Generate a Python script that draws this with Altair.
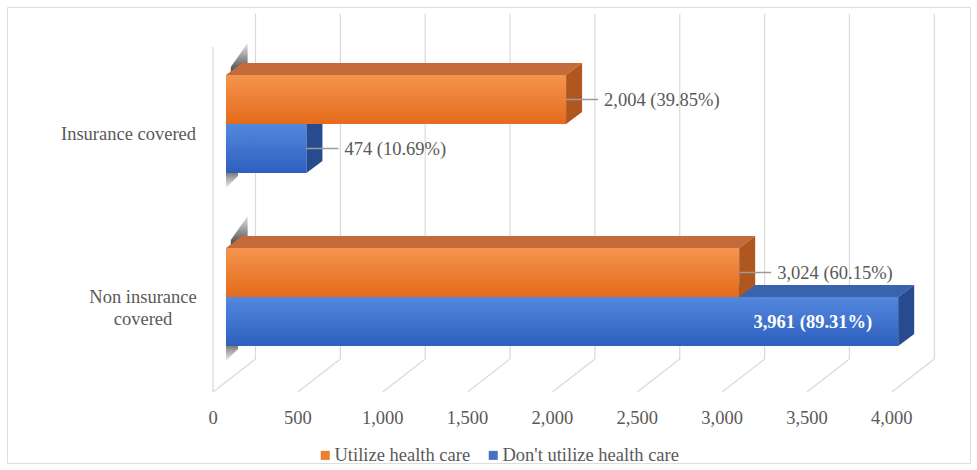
import altair as alt
import pandas as pd

# ---------------- data ----------------
categories = ["Insurance covered", "Non insurance covered"]
category_lines = ["Insurance covered", "Non insurance\ncovered"]
series = ["Utilize health care", "Don't utilize health care"]
utilize = [2004, 3024]
utilize_pct = ["39.85%", "60.15%"]
not_utilize = [474, 3961]
not_utilize_pct = ["10.69%", "89.31%"]
tick_values = [0, 500, 1000, 1500, 2000, 2500, 3000, 3500, 4000]

# ---------------- layout / style constants ----------------
W, H = 963, 456
PX_PER_UNIT = 0.1697
ZERO_PX = 219
X_MIN = -ZERO_PX / PX_PER_UNIT
X_MAX = X_MIN + W / PX_PER_UNIT
DEPTH = 16 / PX_PER_UNIT      # depth of bars (x, in data units)
DEPTH_DY = 12                 # depth of bars (y, layout units)
CAT_FIRST, CAT_STEP, BAR_H = 117, 173, 49
GRID_TOP, GRID_BACK_BOTTOM, GRID_FRONT_BOTTOM, WALL_TOP = 7, 352, 385, 40
TICK_LABEL_Y = 411
FRONT_SHIFT, BACK_SHIFT = -13, 29.5
FONT = "Times New Roman, Liberation Serif, serif"
FS = 18.5
TXT = "#595959"
GRID = "#d9d9d9"

styles = {
    series[0]: dict(g0="#F5944F", g1="#E46B1B", top="#C46B3C", side="#B0561F", legend="#ED7D31"),
    series[1]: dict(g0="#5488DE", g1="#2D5FBE", top="#3A63AE", side="#274B8E", legend="#4472C4"),
}

xs = alt.Scale(domain=[X_MIN, X_MAX], zero=False, nice=False)
ys = alt.Scale(domain=[0, H], reverse=True, zero=False, nice=False)


def vgrad(c0, c1):
    return alt.LinearGradient(gradient="linear", x1=0, x2=0, y1=0, y2=1,
                              stops=[alt.GradientStop(offset=0, color=c0),
                                     alt.GradientStop(offset=1, color=c1)])


def bar_rows(name, values, pcts):
    rows = []
    for i, (v, p) in enumerate(zip(values, pcts)):
        c = CAT_FIRST + i * CAT_STEP
        top, bot = (c - BAR_H, c) if name == series[0] else (c, c + BAR_H)
        rows.append(dict(cat=categories[i], series=name, zero=0, value=v, top=top, bot=bot,
                         yc=(top + bot) / 2, label=f"{v:,} ({p})",
                         inside=v == max(utilize + not_utilize)))
    return rows


def polygon_layer(points, color, opacity=1.0):
    df = pd.DataFrame(points, columns=["px", "py", "py2"])
    return alt.Chart(df).mark_area(orient="vertical", color=color, opacity=opacity,
                                   interpolate="linear").encode(
        x=alt.X("px:Q", scale=xs, axis=None),
        y=alt.Y("py:Q", scale=ys, axis=None, stack=None),
        y2=alt.Y2("py2:Q"))


def bar_layers(name, values, pcts):
    st = styles[name]
    rows = bar_rows(name, values, pcts)
    front = alt.Chart(pd.DataFrame(rows)).mark_rect(color=vgrad(st["g0"], st["g1"])).encode(
        x=alt.X("zero:Q", scale=xs, axis=None), x2="value:Q",
        y=alt.Y("top:Q", scale=ys, axis=None), y2="bot:Q")
    layers = [front]
    for b in rows:
        v, top, bot = b["value"], b["top"], b["bot"]
        layers.append(polygon_layer([
            (0, top, top),
            (DEPTH, top - DEPTH_DY, top),
            (v, top - DEPTH_DY, top),
            (v + DEPTH, top - DEPTH_DY, top - DEPTH_DY)], st["top"]))
        layers.append(polygon_layer([
            (v, top, bot),
            (v + DEPTH, top - DEPTH_DY, bot - DEPTH_DY)], st["side"]))
    return layers


# grid (3D floor + back wall)
grid_df = pd.DataFrame(dict(v=tick_values, gt=GRID_TOP, gb=GRID_BACK_BOTTOM, gf=GRID_FRONT_BOTTOM,
                            wt=WALL_TOP, ly=TICK_LABEL_Y,
                            txt=[f"{t:,}" for t in tick_values]))
back_lines = alt.Chart(grid_df).mark_rule(color=GRID, strokeWidth=1.2, xOffset=BACK_SHIFT).encode(
    x=alt.X("v:Q", scale=xs, axis=None),
    y=alt.Y("gt:Q", scale=ys, axis=None), y2="gb:Q")
floor_lines = alt.Chart(grid_df).mark_rule(color=GRID, strokeWidth=1.2, xOffset=FRONT_SHIFT,
                                           x2Offset=BACK_SHIFT).encode(
    x=alt.X("v:Q", scale=xs, axis=None), x2="v:Q",
    y=alt.Y("gf:Q", scale=ys, axis=None), y2="gb:Q")
wall_line = alt.Chart(grid_df[grid_df.v == 0]).mark_rule(color=GRID, strokeWidth=1.2,
                                                         xOffset=FRONT_SHIFT).encode(
    x=alt.X("v:Q", scale=xs, axis=None),
    y=alt.Y("wt:Q", scale=ys, axis=None), y2="gf:Q")
tick_labels = alt.Chart(grid_df).mark_text(align="center", baseline="middle", dx=FRONT_SHIFT,
                                           font=FONT, fontSize=FS, color=TXT).encode(
    x=alt.X("v:Q", scale=xs, axis=None), y=alt.Y("ly:Q", scale=ys, axis=None), text="txt:N")

# soft wall shadow around the bar ends
shadows = []
for i, cat in enumerate(categories):
    c = CAT_FIRST + i * CAT_STEP
    t, b = c - BAR_H, c + BAR_H
    shadows.append(polygon_layer([(0.3 * DEPTH, t - 8, t),
                                  (1.35 * DEPTH, t - 32, t - 12)],
                                 vgrad("rgba(70,70,70,0.15)", "rgba(50,50,50,1)")))
    shadows.append(polygon_layer([(0, b, b + 15),
                                  (0.75 * DEPTH, b - 8, b + 3)],
                                 vgrad("rgba(50,50,50,1)", "rgba(90,90,90,0.1)")))

# labels
lab_df = pd.DataFrame(bar_rows(series[0], utilize, utilize_pct) +
                      bar_rows(series[1], not_utilize, not_utilize_pct))
outside = lab_df[~lab_df.inside]
inside = lab_df[lab_df.inside]
leaders = alt.Chart(outside).mark_rule(color="#9a9a9a", strokeWidth=1.3, x2Offset=32).encode(
    x=alt.X("value:Q", scale=xs, axis=None), x2="value:Q",
    y=alt.Y("yc:Q", scale=ys, axis=None))
out_text = alt.Chart(outside).mark_text(align="left", baseline="middle", dx=38, font=FONT,
                                        fontSize=FS, color=TXT).encode(
    x=alt.X("value:Q", scale=xs, axis=None), y=alt.Y("yc:Q", scale=ys, axis=None), text="label:N")
in_text = alt.Chart(inside).mark_text(align="right", baseline="middle", dx=-26, font=FONT,
                                      fontSize=FS, fontWeight="bold", color="white").encode(
    x=alt.X("value:Q", scale=xs, axis=None), y=alt.Y("yc:Q", scale=ys, axis=None), text="label:N")

cat_df = pd.DataFrame(dict(label=category_lines, cx=[121.5, 136],
                           cy=[CAT_FIRST + 10, CAT_FIRST + CAT_STEP]))
cat_text = alt.Chart(cat_df).mark_text(align="center", baseline="middle", lineBreak="\n",
                                       lineHeight=22, font=FONT, fontSize=FS, color=TXT).encode(
    x=alt.X("cx:Q", scale=None), y=alt.Y("cy:Q", scale=ys, axis=None), text="label:N")

# legend-only layer
leg_df = pd.DataFrame(dict(series=series, x=[0, 0], y=[0, 0]))
legend_layer = alt.Chart(leg_df).mark_square(opacity=0, size=81).encode(
    x=alt.X("x:Q", scale=xs, axis=None), y=alt.Y("y:Q", scale=ys, axis=None),
    color=alt.Color("series:N",
                    scale=alt.Scale(domain=series, range=[styles[s]["legend"] for s in series]),
                    legend=alt.Legend(orient="none", legendX=309, legendY=439, direction="horizontal",
                                      title=None, symbolType="square", symbolSize=81,
                                      symbolStrokeWidth=0, symbolOpacity=1, labelFont=FONT,
                                      labelFontSize=FS, labelColor=TXT, labelOffset=0,
                                      labelLimit=400, columnPadding=13, padding=0)))

chart = alt.layer(
    back_lines, floor_lines, wall_line, tick_labels, *shadows,
    *bar_layers(series[1], not_utilize, not_utilize_pct),
    *bar_layers(series[0], utilize, utilize_pct),
    leaders, out_text, in_text, cat_text, legend_layer,
).properties(
    width=W, height=H,
    padding={"left": 7, "top": 7, "right": 7, "bottom": 7},
    autosize=alt.AutoSizeParams(type="none"),
).configure_view(stroke="#d9d9d9", strokeWidth=2).configure(background="white")

chart.save("out.html", embed_options={"renderer": "svg", "actions": False})
